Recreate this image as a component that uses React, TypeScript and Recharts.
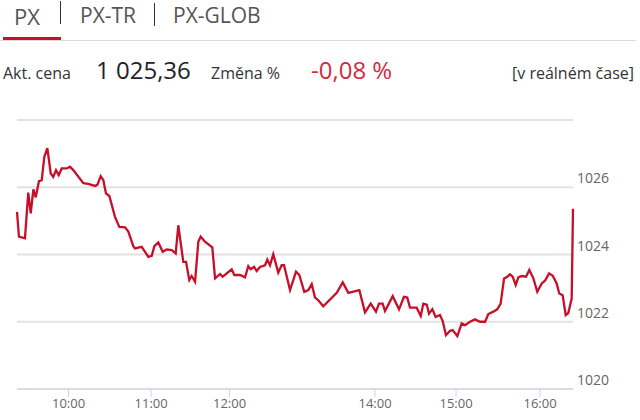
import React from "react";
import { LineChart, Line, XAxis, YAxis, CartesianGrid } from "recharts";

// PX intraday, ordinal x axis (position = point order along the session)
const positions = [
  0, 1.5, 6.1, 8.6, 10.5, 12.5, 14.3, 16.8, 18.9, 20.9, 23.2, 25.8, 27.7, 29.8, 31.9, 34.2,
  38.0, 40.5, 43.0, 50.7, 54.5, 59.6, 61.4, 64.0, 66.0, 68.0, 70.6, 74.9, 78.2, 82.6, 85.1,
  88.9, 90.2, 95.3, 100.4, 103.0, 105.0, 108.0, 111.4, 114.4, 118.3, 121.3, 123.3, 127.1,
  129.2, 131.7, 133.5, 136.1, 138.6, 140.4, 143.7, 149.3, 151.4, 155.2, 157.2, 164.1, 166.1,
  170.5, 174.3, 176.8, 178.6, 181.2, 183.2, 185.7, 189.6, 191.3, 193.4, 195.9, 199.7, 202.3,
  204.1, 208.7, 213.3, 215.8, 219.6, 222.7, 225.3, 227.8, 230.3, 234.1, 244.4, 249.0, 253.3,
  261.7, 266.0, 270.4, 274.4, 276.7, 279.5, 281.3, 287.2, 292.0, 295.8, 298.3, 300.4, 305.5,
  308.6, 310.6, 313.2, 314.9, 317.5, 320.0, 323.3, 325.4, 327.9, 331.0, 333.0, 336.6, 339.9,
  342.5, 346.3, 350.1, 353.9, 357.8, 360.3, 364.1, 367.1, 369.7, 372.3, 374.8, 376.8, 378.9,
  381.2, 383.2, 385.8, 389.1, 391.6, 394.7, 397.7, 401.1, 403.6, 406.7, 409.5, 412.5, 414.5,
  417.1, 419.4, 421.4, 424.0, 425.0,
];

const prices = [
  1025.27, 1024.53, 1024.48, 1025.84, 1025.22, 1025.94, 1025.70, 1026.18, 1026.21, 1026.91,
  1027.16, 1026.41, 1026.31, 1026.51, 1026.36, 1026.56, 1026.56, 1026.61, 1026.51, 1026.12,
  1026.10, 1026.04, 1026.07, 1026.33, 1026.21, 1025.82, 1025.74, 1025.12, 1024.82, 1024.81,
  1024.68, 1024.25, 1024.18, 1024.23, 1023.93, 1023.96, 1024.25, 1024.36, 1024.08, 1024.15,
  1024.13, 1024.03, 1024.87, 1023.78, 1023.78, 1023.24, 1023.36, 1023.19, 1024.38, 1024.53,
  1024.38, 1024.21, 1023.29, 1023.42, 1023.34, 1023.56, 1023.39, 1023.39, 1023.32, 1023.65,
  1023.56, 1023.63, 1023.51, 1023.63, 1023.68, 1023.85, 1023.68, 1024.01, 1023.46, 1023.68,
  1023.68, 1022.94, 1023.49, 1023.39, 1022.89, 1022.94, 1023.12, 1022.72, 1022.64, 1022.46,
  1022.86, 1023.17, 1022.86, 1022.94, 1022.28, 1022.54, 1022.30, 1022.54, 1022.54, 1022.32,
  1022.76, 1022.37, 1022.74, 1022.72, 1022.42, 1022.42, 1022.17, 1022.54, 1022.51, 1022.24,
  1022.37, 1022.14, 1022.20, 1022.02, 1021.60, 1021.73, 1021.75, 1021.57, 1021.95, 1021.90,
  1022.00, 1022.07, 1022.00, 1022.00, 1022.23, 1022.30, 1022.37, 1022.54, 1023.29, 1023.34,
  1023.41, 1023.34, 1023.09, 1023.32, 1023.36, 1023.34, 1023.54, 1023.29, 1022.89, 1023.14,
  1023.22, 1023.44, 1023.37, 1023.14, 1022.84, 1022.79, 1022.20, 1022.26, 1022.69, 1025.36,
];

const hourTicks = [39.4, 102.5, 162.5, 273.7, 335.6, 399.8];
const hourLabels = ["10:00", "11:00", "12:00", "14:00", "15:00", "16:00"];
const priceTicks = [1020, 1022, 1024, 1026, 1028];

const tabs = ["PX", "PX-TR", "PX-GLOB"];

const data = positions.map((pos, i) => ({ pos, price: prices[i] }));

const FONT = "'Open Sans', sans-serif";
const RED = "#c80f2a";

const PriceTick = (props: any) => {
  const { x, y, payload } = props;
  // top gridline has no label
  if (payload.value === 1028) return null;
  return (
    <text x={x} y={y - 4} fill="#666" fontSize={14} fontFamily={FONT} textAnchor="start">
      {payload.value}
    </text>
  );
};

const App = () => {
  return (
    <div style={{ position: "absolute", left: 0, top: 0, width: 640, height: 420, background: "#fff", fontFamily: FONT }}>
      <LineChart width={640} height={420} data={data} margin={{ top: 120, right: 7, left: 17, bottom: 1 }}>
        <CartesianGrid vertical={false} stroke="#e2e2e2" strokeWidth={2} />
        <XAxis
          dataKey="pos"
          type="number"
          domain={[0, 425]}
          ticks={hourTicks}
          tickFormatter={(v) => hourLabels[hourTicks.indexOf(v)] ?? ""}
          height={30}
          stroke="#ccd6eb"
          tickSize={8}
          tick={{ fill: "#666", fontSize: 13, fontFamily: FONT }}
          interval={0}
        />
        <YAxis
          orientation="right"
          domain={[1020, 1028]}
          ticks={priceTicks}
          width={60}
          axisLine={false}
          tickLine={false}
          tickSize={0}
          tickMargin={4}
          tick={<PriceTick />}
          interval={0}
        />
        <Line
          type="linear"
          dataKey="price"
          stroke={RED}
          strokeWidth={2.3}
          dot={false}
          isAnimationActive={false}
        />
      </LineChart>

      {/* tabs */}
      <div style={{ position: "absolute", left: 0, top: 40, width: 636, height: 1, background: "#dcdcdc" }} />
      <div style={{ position: "absolute", left: 3, top: 37, width: 58, height: 3, background: RED }} />
      <span style={{ position: "absolute", left: 14, top: 3, fontSize: 22, lineHeight: "26px", color: "#555" }}>{tabs[0]}</span>
      <div style={{ position: "absolute", left: 60, top: 1, width: 1, height: 23, background: "#333" }} />
      <span style={{ position: "absolute", left: 80, top: 3, fontSize: 21, lineHeight: "25px", color: "#555" }}>{tabs[1]}</span>
      <div style={{ position: "absolute", left: 154, top: 3, width: 1, height: 23, background: "#333" }} />
      <span style={{ position: "absolute", left: 173, top: 3, fontSize: 21, lineHeight: "25px", color: "#555" }}>{tabs[2]}</span>

      {/* price row */}
      <span style={{ position: "absolute", left: 3, top: 65, fontSize: 16, lineHeight: "16px", color: "#333" }}>Akt. cena</span>
      <span style={{ position: "absolute", left: 96, top: 58, fontSize: 24, lineHeight: "24px", color: "#222" }}>1 025,36</span>
      <span style={{ position: "absolute", left: 211, top: 65, fontSize: 16, lineHeight: "16px", color: "#333" }}>Změna %</span>
      <span style={{ position: "absolute", left: 311, top: 58, fontSize: 24, lineHeight: "24px", color: "#d42a3c" }}>-0,08 %</span>
      <span style={{ position: "absolute", right: 6, top: 65, fontSize: 16, lineHeight: "16px", color: "#333" }}>[v reálném čase]</span>
    </div>
  );
};

export default App;
